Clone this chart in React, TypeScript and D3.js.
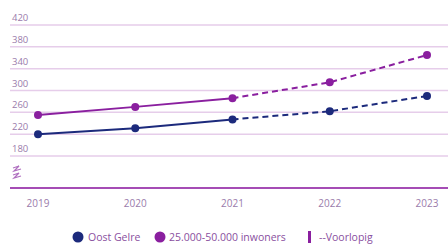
import React, { useEffect, useRef } from 'react';
import * as d3 from 'd3';

const years = [2019, 2020, 2021, 2022, 2023];
const oostGelre = [220, 231, 247, 262, 290];
const inwoners = [255, 270, 286, 315, 365];
const yTicks = [180, 220, 260, 300, 340, 380, 420];
const lastFinal = 2021; // from here on: voorlopig

const NAVY = '#1c2a7c';
const PURPLE = '#8a1f9f';
const GRID = '#e6cdea';
const TEXT = '#9a7bab';

export default function App() {
  const svgRef = useRef<SVGSVGElement>(null);

  useEffect(() => {
    const svg = d3.select(svgRef.current);
    svg.selectAll('*').remove();

    const width = 448;
    const gridLeft = 10;

    const x = d3.scalePoint<number>()
      .domain(years)
      .range([38, 427]);

    const y = d3.scaleLinear()
      .domain([180, 420])
      .range([156, 25]);

    const font = "'Open Sans', sans-serif";

    // gridlines + labels
    const g = svg.append('g');
    yTicks.forEach(t => {
      g.append('line')
        .attr('x1', gridLeft).attr('x2', width)
        .attr('y1', y(t)).attr('y2', y(t))
        .attr('stroke', GRID).attr('stroke-width', 1.5);
      g.append('text')
        .attr('x', 12).attr('y', y(t) - 4)
        .attr('font-family', font).attr('font-size', 9.5)
        .attr('fill', TEXT)
        .text(t);
    });

    // axis break symbol
    svg.append('path')
      .attr('d', 'M13,168 L19,166 L14,171 L21,169 M13,175 L19,173 L14,178 L21,176')
      .attr('fill', 'none').attr('stroke', '#b070c0').attr('stroke-width', 1.2);

    // x axis line
    svg.append('line')
      .attr('x1', gridLeft).attr('x2', width)
      .attr('y1', 188).attr('y2', 188)
      .attr('stroke', '#a54cb5').attr('stroke-width', 2);

    years.forEach(yr => {
      svg.append('text')
        .attr('x', x(yr)!).attr('y', 207)
        .attr('text-anchor', 'middle')
        .attr('font-family', font).attr('font-size', 10)
        .attr('fill', TEXT)
        .text(yr);
    });

    const line = d3.line<[number, number]>()
      .x(d => x(d[0])!)
      .y(d => y(d[1]));

    const drawSeries = (vals: number[], color: string) => {
      const pts: [number, number][] = years.map((yr, i) => [yr, vals[i]]);
      const solid = pts.filter(p => p[0] <= lastFinal);
      const dashed = pts.filter(p => p[0] >= lastFinal);
      svg.append('path').datum(solid)
        .attr('d', line).attr('fill', 'none')
        .attr('stroke', color).attr('stroke-width', 2);
      svg.append('path').datum(dashed)
        .attr('d', line).attr('fill', 'none')
        .attr('stroke', color).attr('stroke-width', 2)
        .attr('stroke-dasharray', '6,4');
      svg.append('g').selectAll('circle').data(pts).join('circle')
        .attr('cx', d => x(d[0])!).attr('cy', d => y(d[1]))
        .attr('r', 4).attr('fill', color);
    };

    drawSeries(oostGelre, NAVY);
    drawSeries(inwoners, PURPLE);

    // legend
    const ly = 237;
    const lg = svg.append('g').attr('font-family', font).attr('font-size', 10.5).attr('fill', '#8a4fa0');
    lg.append('circle').attr('cx', 78).attr('cy', ly).attr('r', 5.5).attr('fill', NAVY);
    lg.append('text').attr('x', 88).attr('y', ly + 3.8).text('Oost Gelre');
    lg.append('circle').attr('cx', 160).attr('cy', ly).attr('r', 5.5).attr('fill', PURPLE);
    lg.append('text').attr('x', 169).attr('y', ly + 3.8).text('25.000-50.000 inwoners');
    lg.append('rect').attr('x', 308).attr('y', ly - 6).attr('width', 3).attr('height', 12).attr('fill', PURPLE);
    lg.append('text').attr('x', 319).attr('y', ly + 3.8).text('--Voorlopig');
  }, []);

  return (
    <svg ref={svgRef} width={448} height={245}
      style={{ position: 'absolute', left: 0, top: 0, background: '#fff' }} />
  );
}
